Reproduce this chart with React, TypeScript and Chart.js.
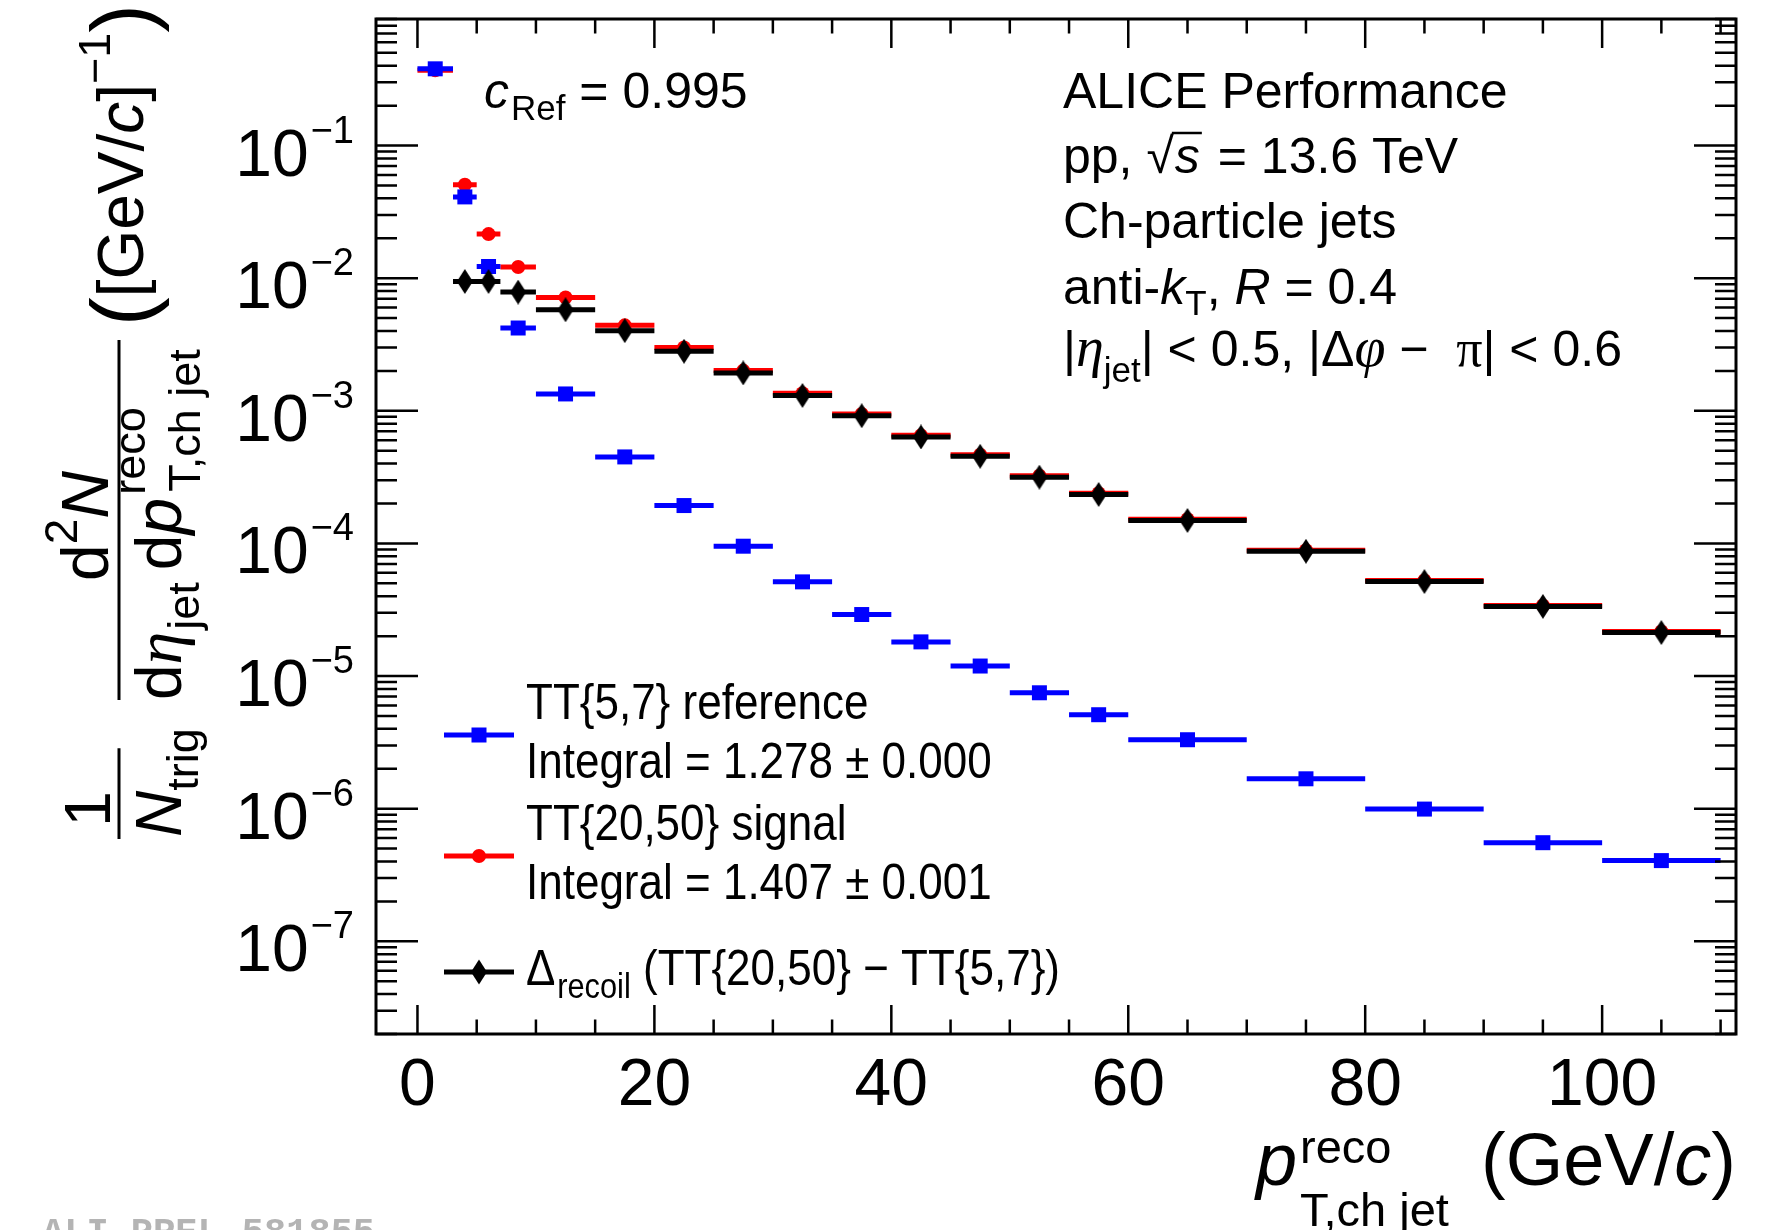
import React, { useEffect, useRef } from 'react';
import { Chart, registerables } from 'chart.js';

Chart.register(...registerables);

// ---------------- data ----------------
const binEdges = [0, 3, 5, 7, 10, 15, 20, 25, 30, 35, 40, 45, 50, 55, 60, 70, 80, 90, 100, 110];
const refValues = [0.379, 0.041, 0.01225, 0.00421, 0.00134, 4.49e-4, 1.93e-4, 9.53e-5, 5.13e-5, 2.91e-5, 1.81e-5, 1.19e-5, 7.48e-6, 5.11e-6, 3.31e-6, 1.68e-6, 9.93e-7, 5.54e-7, 4.06e-7];
const sigValues = [0.37, 0.0506, 0.0215, 0.01214, 0.00716, 0.00441, 0.003, 0.00201, 1.356e-3, 9.47e-4, 6.53e-4, 4.66e-4, 3.235e-4, 2.39e-4, 1.523e-4, 8.9e-5, 5.26e-5, 3.405e-5, 2.17e-5];
const recoilValues: (number | null)[] = [null, 0.00945, 0.00945, 0.00785, 0.00578, 0.00402, 0.00281, 0.00193, 1.305e-3, 9.18e-4, 6.35e-4, 4.54e-4, 3.16e-4, 2.34e-4, 1.49e-4, 8.73e-5, 5.16e-5, 3.35e-5, 2.13e-5];
const xTickLabels = ['0', '20', '40', '60', '80', '100'];
const yTickExponents = [-1, -2, -3, -4, -5, -6, -7];

const X_MIN = -3.5;
const X_MAX = 111.3;
const Y_MIN = 2e-8;
const Y_MAX = 0.9;

const BLUE = '#0000ff';
const RED = '#ff0000';
const BLACK = '#000000';

const SANS = '"Liberation Sans", Arial, Helvetica, sans-serif';
const SERIF = '"Liberation Serif", "Times New Roman", serif';
const MONO = '"Liberation Mono", "DejaVu Sans Mono", monospace';

const centers = binEdges.slice(0, -1).map((lo, i) => (lo + binEdges[i + 1]) / 2);

function barData(vals: (number | null)[]) {
  const out: { x: number; y: number | null }[] = [];
  vals.forEach((v, i) => {
    if (v == null) return;
    out.push({ x: binEdges[i], y: v }, { x: binEdges[i + 1], y: v }, { x: binEdges[i + 1], y: null });
  });
  return out;
}
function pointData(vals: (number | null)[]) {
  const out: { x: number; y: number }[] = [];
  vals.forEach((v, i) => {
    if (v == null) return;
    out.push({ x: centers[i], y: v });
  });
  return out;
}

function makeDiamond(w: number, h: number, color: string) {
  const c = document.createElement('canvas');
  c.width = w;
  c.height = h;
  const g = c.getContext('2d')!;
  g.fillStyle = color;
  g.beginPath();
  g.moveTo(w / 2, 0);
  g.lineTo(w, h / 2);
  g.lineTo(w / 2, h);
  g.lineTo(0, h / 2);
  g.closePath();
  g.fill();
  return c;
}

// ---------------- text helpers ----------------
type Run = { t: string; s: number; it?: boolean; dy?: number; ff?: string; dx?: number; adv?: boolean };

function drawRuns(ctx: CanvasRenderingContext2D, list: Run[], x: number, y: number, sx = 1) {
  ctx.save();
  ctx.translate(x, y);
  ctx.scale(sx, 1);
  ctx.textBaseline = 'alphabetic';
  ctx.textAlign = 'left';
  let cx = 0;
  for (const r of list) {
    ctx.font = `${r.it ? 'italic ' : ''}${r.s}px ${r.ff || SANS}`;
    cx += r.dx || 0;
    ctx.fillText(r.t, cx, r.dy || 0);
    if (r.adv !== false) cx += ctx.measureText(r.t).width;
  }
  ctx.restore();
  return cx * sx;
}
function measureRuns(ctx: CanvasRenderingContext2D, list: Run[]) {
  let cx = 0;
  ctx.save();
  for (const r of list) {
    ctx.font = `${r.it ? 'italic ' : ''}${r.s}px ${r.ff || SANS}`;
    cx += r.dx || 0;
    if (r.adv !== false) cx += ctx.measureText(r.t).width;
  }
  ctx.restore();
  return cx;
}

// ---------------- frame / annotation plugin ----------------
const rootStyle = {
  id: 'rootStyle',
  afterDraw(chart: any) {
    const ctx: CanvasRenderingContext2D = chart.ctx;
    const xs = chart.scales.x;
    const ys = chart.scales.y;
    const a = chart.chartArea;
    ctx.save();
    ctx.fillStyle = BLACK;
    ctx.strokeStyle = BLACK;

    // ticks
    ctx.lineWidth = 2.5;
    ctx.beginPath();
    for (let v = 0; v <= 110; v += 5) {
      const px = xs.getPixelForValue(v);
      const len = v % 20 === 0 ? 29 : 14.5;
      ctx.moveTo(px, a.bottom);
      ctx.lineTo(px, a.bottom - len);
      ctx.moveTo(px, a.top);
      ctx.lineTo(px, a.top + len);
    }
    for (let e = -8; e <= 0; e++) {
      for (let m = 1; m <= 9; m++) {
        const v = m * Math.pow(10, e);
        if (v < Y_MIN * 0.999 || v > Y_MAX * 1.001) continue;
        const py = ys.getPixelForValue(v);
        const len = m === 1 ? 42 : 21;
        ctx.moveTo(a.left, py);
        ctx.lineTo(a.left + len, py);
        ctx.moveTo(a.right, py);
        ctx.lineTo(a.right - len, py);
      }
    }
    ctx.stroke();

    // frame
    ctx.lineWidth = 3;
    ctx.strokeRect(a.left, a.top, a.right - a.left, a.bottom - a.top);

    // x tick labels
    ctx.font = `66px ${SANS}`;
    ctx.textAlign = 'center';
    ctx.textBaseline = 'alphabetic';
    xTickLabels.forEach((lab) => {
      const px = xs.getPixelForValue(Number(lab));
      ctx.fillText(lab, px, 1105);
    });

    // y tick labels
    yTickExponents.forEach((e) => {
      const py = ys.getPixelForValue(Math.pow(10, e));
      const runs: Run[] = [
        { t: '10', s: 66 },
        { t: '\u2212' + String(-e), s: 38, dy: -33, dx: 2 },
      ];
      const w = measureRuns(ctx, runs);
      drawRuns(ctx, runs, 354 - w, py + 30);
    });

    // x axis title
    drawRuns(ctx, [{ t: 'p', s: 74, it: true }], 1256, 1185);
    drawRuns(ctx, [{ t: 'reco', s: 47 }], 1300, 1163);
    drawRuns(ctx, [{ t: 'T,ch jet', s: 47 }], 1300, 1226);
    drawRuns(ctx, [{ t: '(GeV/', s: 74 }, { t: 'c', s: 74, it: true }, { t: ')', s: 74 }], 1481, 1185);

    // y axis title (rotated)
    ctx.save();
    ctx.translate(0, 1034);
    ctx.rotate(-Math.PI / 2);
    // 1 / N_trig
    const ntrig: Run[] = [{ t: 'N', s: 64, it: true }, { t: 'trig', s: 45, dy: 17 }];
    const wN = measureRuns(ctx, ntrig);
    const u1 = 197;
    drawRuns(ctx, ntrig, u1, 181);
    ctx.font = `64px ${SANS}`;
    const w1 = ctx.measureText('1').width;
    drawRuns(ctx, [{ t: '1', s: 64 }], u1 + 28 - w1 / 2, 110);
    ctx.lineWidth = 3;
    ctx.beginPath();
    ctx.moveTo(u1 - 2, 119);
    ctx.lineTo(u1 + wN - 20, 119);
    // big fraction bar
    ctx.moveTo(334, 119);
    ctx.lineTo(694, 119);
    ctx.stroke();
    // numerator d^2N
    const num: Run[] = [{ t: 'd', s: 66 }, { t: '2', s: 46, dy: -31 }, { t: 'N', s: 66, it: true }];
    const wNum = measureRuns(ctx, num);
    drawRuns(ctx, num, 508 - wNum / 2, 108);
    // denominator
    drawRuns(
      ctx,
      [
        { t: 'd', s: 64 },
        { t: '\u03b7', s: 66, it: true, ff: SERIF },
        { t: 'jet', s: 45, dy: 18, dx: 2 },
        { t: 'd', s: 64, dx: 12 },
        { t: 'p', s: 66, it: true },
        { t: 'reco', s: 45, dy: -36, dx: 3, adv: false },
        { t: 'T,ch jet', s: 45, dy: 19, dx: 3 },
      ],
      334,
      181
    );
    // units
    drawRuns(
      ctx,
      [
        { t: '(', s: 86, dy: 8 },
        { t: '[GeV/', s: 64 },
        { t: 'c', s: 64, it: true },
        { t: ']', s: 64 },
        { t: '\u22121', s: 45, dy: -33 },
        { t: ')', s: 86, dy: 8 },
      ],
      708,
      143
    );
    ctx.restore();

    // c_Ref
    drawRuns(ctx, [{ t: 'c', s: 50, it: true }, { t: 'Ref', s: 35, dy: 12, dx: 2 }, { t: ' = 0.995', s: 50 }], 484, 108);

    // header
    const hx = 1063;
    drawRuns(ctx, [{ t: 'ALICE Performance', s: 50 }], hx, 108);
    const ppEnd = drawRuns(ctx, [{ t: 'pp, ', s: 50 }, { t: '\u221a', s: 50 }], hx, 173);
    const sW = drawRuns(ctx, [{ t: 's', s: 50, it: true }], hx + ppEnd + 1, 173);
    ctx.lineWidth = 2.5;
    ctx.beginPath();
    ctx.moveTo(hx + ppEnd - 2, 173 - 40);
    ctx.lineTo(hx + ppEnd + sW + 3, 173 - 40);
    ctx.stroke();
    drawRuns(ctx, [{ t: ' = 13.6 TeV', s: 50 }], hx + ppEnd + sW + 5, 173);
    drawRuns(ctx, [{ t: 'Ch-particle jets', s: 50 }], hx, 238);
    drawRuns(
      ctx,
      [
        { t: 'anti-', s: 50 },
        { t: 'k', s: 50, it: true },
        { t: 'T', s: 35, dy: 11 },
        { t: ', ', s: 50 },
        { t: 'R', s: 50, it: true },
        { t: ' = 0.4', s: 50 },
      ],
      hx,
      304
    );
    drawRuns(
      ctx,
      [
        { t: '|', s: 50 },
        { t: '\u03b7', s: 56, it: true, ff: SERIF },
        { t: 'jet', s: 35, dy: 16 },
        { t: '| < 0.5, |\u0394', s: 50 },
        { t: '\u03c6', s: 56, it: true, ff: SERIF },
        { t: ' \u2212  ', s: 50 },
        { t: '\u03c0', s: 52, ff: SERIF },
        { t: '| < 0.6', s: 50 },
      ],
      hx,
      366
    );

    // legend
    const lx = 526;
    const LS = 0.88;
    drawRuns(ctx, [{ t: 'TT{5,7} reference', s: 50 }], lx, 719, LS);
    drawRuns(ctx, [{ t: 'Integral = 1.278 \u00b1 0.000', s: 50 }], lx, 778, LS);
    drawRuns(ctx, [{ t: 'TT{20,50} signal', s: 50 }], lx, 840, LS);
    drawRuns(ctx, [{ t: 'Integral = 1.407 \u00b1 0.001', s: 50 }], lx, 899, LS);
    drawRuns(
      ctx,
      [
        { t: '\u0394', s: 50 },
        { t: 'recoil', s: 35, dy: 13, dx: 2 },
        { t: ' (TT{20,50} \u2212 TT{5,7})', s: 50 },
      ],
      lx,
      985,
      LS
    );
    const mx = 479;
    const lineY = [735, 856, 972];
    const lineC = [BLUE, RED, BLACK];
    ctx.lineWidth = 5;
    lineY.forEach((yy, i) => {
      ctx.strokeStyle = lineC[i];
      ctx.beginPath();
      ctx.moveTo(444, yy);
      ctx.lineTo(514, yy);
      ctx.stroke();
    });
    ctx.fillStyle = BLUE;
    ctx.fillRect(mx - 7.5, lineY[0] - 7.5, 15, 15);
    ctx.fillStyle = RED;
    ctx.beginPath();
    ctx.arc(mx, lineY[1], 7, 0, Math.PI * 2);
    ctx.fill();
    ctx.fillStyle = BLACK;
    ctx.beginPath();
    ctx.moveTo(mx, lineY[2] - 12.5);
    ctx.lineTo(mx + 8, lineY[2]);
    ctx.lineTo(mx, lineY[2] + 12.5);
    ctx.lineTo(mx - 8, lineY[2]);
    ctx.closePath();
    ctx.fill();

    // watermark
    ctx.fillStyle = '#b4b4b4';
    ctx.font = `bold 37px ${MONO}`;
    ctx.textAlign = 'left';
    ctx.fillText('ALI-PREL-581855', 42, 1243);

    ctx.restore();
  },
};

export default function App() {
  const ref = useRef<HTMLCanvasElement | null>(null);
  useEffect(() => {
    if (!ref.current) return;
    const diamond = makeDiamond(16, 25, BLACK);
    const barOpts = {
      showLine: true,
      pointRadius: 0,
      pointHoverRadius: 0,
      borderWidth: 5,
      borderCapStyle: 'butt' as const,
      spanGaps: false,
      fill: false,
      tension: 0,
    };
    const chart = new Chart(ref.current, {
      type: 'line',
      data: {
        datasets: [
          {
            label: 'recoil markers',
            data: pointData(recoilValues),
            showLine: false,
            pointStyle: diamond as any,
            pointRadius: 8,
            pointBorderWidth: 0,
            pointBackgroundColor: BLACK,
          },
          { label: 'recoil bars', data: barData(recoilValues), borderColor: BLACK, ...barOpts },
          {
            label: 'reference markers',
            data: pointData(refValues),
            showLine: false,
            pointStyle: 'rect',
            pointRadius: 10.6,
            pointBorderWidth: 0,
            pointBackgroundColor: BLUE,
          },
          { label: 'reference bars', data: barData(refValues), borderColor: BLUE, ...barOpts },
          {
            label: 'signal markers',
            data: pointData(sigValues),
            showLine: false,
            pointStyle: 'circle',
            pointRadius: 7,
            pointBorderWidth: 0,
            pointBackgroundColor: RED,
          },
          { label: 'signal bars', data: barData(sigValues), borderColor: RED, ...barOpts },
        ] as any,
      },
      options: {
        responsive: false,
        animation: false,
        events: [],
        layout: { padding: { left: 376, top: 19, right: 37, bottom: 196 } },
        scales: {
          x: { type: 'linear', min: X_MIN, max: X_MAX, display: false },
          y: { type: 'logarithmic', min: Y_MIN, max: Y_MAX, display: false },
        },
        plugins: { legend: { display: false }, tooltip: { enabled: false } },
      },
      plugins: [rootStyle],
    });
    return () => chart.destroy();
  }, []);
  return (
    <div style={{ position: 'absolute', left: 0, top: 0, width: 1773, height: 1230, background: '#fff' }}>
      <canvas ref={ref} width={1773} height={1230} style={{ display: 'block' }} />
    </div>
  );
}
